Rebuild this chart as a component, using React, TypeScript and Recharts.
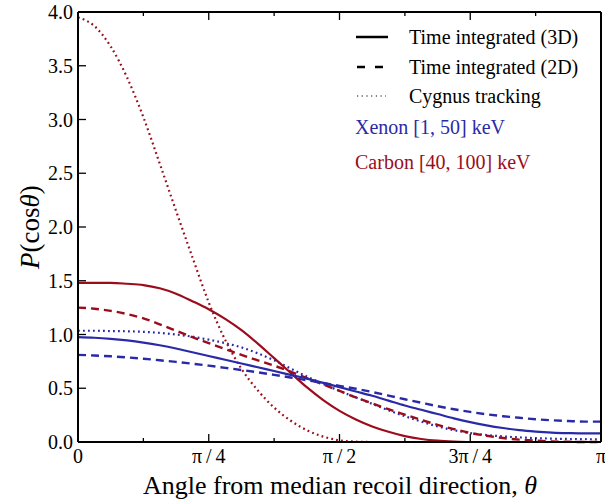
import { LineChart, Line, XAxis, YAxis } from 'recharts'

// angle samples, k * pi / 32
const theta = [
  0, 0.098, 0.196, 0.295, 0.393, 0.491, 0.589, 0.687, 0.785, 0.884, 0.982,
  1.08, 1.178, 1.276, 1.374, 1.473, 1.571, 1.669, 1.767, 1.865, 1.963, 2.062,
  2.16, 2.258, 2.356, 2.454, 2.553, 2.651, 2.749, 2.847, 2.945, 3.043, 3.1416,
]

const xenon3D = [
  0.975, 0.97, 0.96, 0.945, 0.925, 0.9, 0.87, 0.835, 0.8, 0.765, 0.73, 0.695,
  0.66, 0.625, 0.59, 0.55, 0.51, 0.47, 0.43, 0.385, 0.34, 0.3, 0.26, 0.22,
  0.185, 0.155, 0.13, 0.11, 0.097, 0.088, 0.083, 0.08, 0.08,
]
const xenon2D = [
  0.81, 0.805, 0.797, 0.787, 0.775, 0.76, 0.745, 0.728, 0.71, 0.69, 0.67, 0.648,
  0.625, 0.6, 0.575, 0.55, 0.522, 0.495, 0.465, 0.432, 0.398, 0.365, 0.333, 0.305,
  0.28, 0.258, 0.24, 0.225, 0.212, 0.202, 0.195, 0.19, 0.19,
]
const xenonCygnus = [
  1.035, 1.035, 1.032, 1.03, 1.025, 1.015, 1.0, 0.98, 0.952, 0.92, 0.88, 0.825,
  0.76, 0.685, 0.61, 0.54, 0.475, 0.415, 0.355, 0.295, 0.24, 0.19, 0.145, 0.11,
  0.083, 0.065, 0.052, 0.043, 0.036, 0.031, 0.028, 0.026, 0.025,
]
const carbon3D = [
  1.48, 1.48, 1.48, 1.472, 1.46, 1.43, 1.38, 1.31, 1.235, 1.145, 1.04, 0.915,
  0.78, 0.645, 0.51, 0.39, 0.29, 0.21, 0.145, 0.095, 0.055, 0.028, 0.012, 0.004,
  0, 0, 0, 0, 0, 0, 0, 0, 0,
]
const carbon2D = [
  1.25, 1.24, 1.22, 1.19, 1.15, 1.095, 1.035, 0.975, 0.92, 0.865, 0.81, 0.76,
  0.71, 0.655, 0.595, 0.535, 0.475, 0.415, 0.36, 0.305, 0.255, 0.205, 0.16,
  0.12, 0.085, 0.058, 0.037, 0.022, 0.012, 0.005, 0.002, 0, 0,
]
const carbonCygnus = [
  3.95, 3.87, 3.68, 3.39, 3.02, 2.59, 2.15, 1.72, 1.3, 0.95, 0.68, 0.48, 0.32,
  0.2, 0.11, 0.05, 0.015, 0.003, 0, 0, 0, 0, 0, 0, 0, 0, 0, 0, 0, 0, 0, 0, 0,
]

const xTicks = [0, 0.3927, 0.7854, 1.1781, 1.5708, 1.9635, 2.3562, 2.7489, 3.1416]
const xTickLabels = ['0', '', 'π\u2009/\u20094', '', 'π\u2009/\u20092', '', '3π\u2009/\u20094', '', 'π']
const yTicks = [0, 0.5, 1, 1.5, 2, 2.5, 3, 3.5, 4]
const yTickLabels = ['0.0', '0.5', '1.0', '1.5', '2.0', '2.5', '3.0', '3.5', '4.0']

const data = theta.map((t, i) => ({
  theta: t,
  xenon3D: xenon3D[i],
  xenon2D: xenon2D[i],
  xenonCygnus: xenonCygnus[i],
  carbon3D: carbon3D[i],
  carbon2D: carbon2D[i],
  carbonCygnus: carbonCygnus[i],
}))

const BLUE = '#2a2aa8'
const RED = '#9b0d1d'
const FONT = '"Liberation Serif", "Times New Roman", serif'
const DASH = '8 5'
const DOT = '1.8 3.2'

function BottomTick({ x, y, payload }: any) {
  const label = xTickLabels[payload.index]
  return (
    <g>
      <line x1={x} x2={x} y1={y} y2={y - (label ? 8 : 4)} stroke="#000" strokeWidth={1.3} />
      {label && (
        <text x={x} y={y + 21} textAnchor="middle" fontFamily={FONT} fontSize={20} fill="#000">
          {label}
        </text>
      )}
    </g>
  )
}

function TopTick({ x, y, payload }: any) {
  const label = xTickLabels[payload.index]
  return <line x1={x} x2={x} y1={y} y2={y + (label ? 8 : 4)} stroke="#000" strokeWidth={1.3} />
}

function LeftTick({ x, y, payload }: any) {
  return (
    <g>
      <line x1={x} x2={x + 8} y1={y} y2={y} stroke="#000" strokeWidth={1.3} />
      <text x={x - 5} y={y} dy="0.35em" textAnchor="end" fontFamily={FONT} fontSize={20} fill="#000">
        {yTickLabels[payload.index]}
      </text>
    </g>
  )
}

function RightTick({ x, y }: any) {
  return <line x1={x} x2={x - 8} y1={y} y2={y} stroke="#000" strokeWidth={1.3} />
}

const axisLine = { stroke: '#000', strokeWidth: 2 }

export default function App() {
  return (
    <div style={{ position: 'absolute', left: 0, top: 0, width: 605, height: 501, background: '#fff' }}>
      {/* axes are 1px thick, margins set so the plot box is 78..601 x 12..442 */}
      <LineChart width={605} height={501} data={data} margin={{ top: 11, right: 3, bottom: 58, left: 77 }}>
        <XAxis
          dataKey="theta"
          type="number"
          domain={[0, 3.1416]}
          ticks={xTicks}
          interval={0}
          height={1}
          tickSize={0}
          tickMargin={0}
          tickLine={false}
          axisLine={axisLine}
          tick={<BottomTick />}
        />
        <XAxis
          xAxisId="top"
          orientation="top"
          dataKey="theta"
          type="number"
          domain={[0, 3.1416]}
          ticks={xTicks}
          interval={0}
          height={1}
          tickSize={0}
          tickMargin={0}
          tickLine={false}
          axisLine={axisLine}
          tick={<TopTick />}
        />
        <YAxis
          type="number"
          domain={[0, 4]}
          ticks={yTicks}
          interval={0}
          width={1}
          tickSize={0}
          tickMargin={0}
          tickLine={false}
          axisLine={axisLine}
          tick={<LeftTick />}
        />
        <YAxis
          yAxisId="right"
          orientation="right"
          type="number"
          domain={[0, 4]}
          ticks={yTicks}
          interval={0}
          width={1}
          tickSize={0}
          tickMargin={0}
          tickLine={false}
          axisLine={axisLine}
          tick={<RightTick />}
        />
        <Line dataKey="carbonCygnus" type="monotone" stroke={RED} strokeWidth={2.2} strokeDasharray={DOT} dot={false} isAnimationActive={false} />
        <Line dataKey="xenonCygnus" type="monotone" stroke={BLUE} strokeWidth={2.2} strokeDasharray={DOT} dot={false} isAnimationActive={false} />
        <Line dataKey="carbon2D" type="monotone" stroke={RED} strokeWidth={2.4} strokeDasharray={DASH} dot={false} isAnimationActive={false} />
        <Line dataKey="xenon2D" type="monotone" stroke={BLUE} strokeWidth={2.4} strokeDasharray={DASH} dot={false} isAnimationActive={false} />
        <Line dataKey="carbon3D" type="monotone" stroke={RED} strokeWidth={2.2} dot={false} isAnimationActive={false} />
        <Line dataKey="xenon3D" type="monotone" stroke={BLUE} strokeWidth={2.2} dot={false} isAnimationActive={false} />
      </LineChart>

      {/* legend + axis titles */}
      <svg width={605} height={501} style={{ position: 'absolute', left: 0, top: 0, pointerEvents: 'none' }}>
        <g fontFamily={FONT} fontSize={20} fill="#000">
          <line x1={356} x2={388} y1={37} y2={37} stroke="#000" strokeWidth={2.5} />
          <text x={409} y={37} dy="0.35em">Time integrated (3D)</text>
          <line x1={357} x2={388} y1={67} y2={67} stroke="#000" strokeWidth={2.5} strokeDasharray="8 10" />
          <text x={409} y={67} dy="0.35em">Time integrated (2D)</text>
          <line x1={357} x2={386} y1={96} y2={96} stroke="#000" strokeWidth={1.2} strokeDasharray="1.2 3.5" />
          <text x={409} y={96} dy="0.35em">Cygnus tracking</text>
          <text x={355} y={127} dy="0.35em" fill={BLUE}>Xenon [1, 50] keV</text>
          <text x={355} y={162} dy="0.35em" fill={RED}>Carbon [40, 100] keV</text>
        </g>
        <text x={340} y={485} dy="0.35em" textAnchor="middle" fontFamily={FONT} fontSize={26} fill="#000">
          Angle from median recoil direction, <tspan fontStyle="italic">θ</tspan>
        </text>
        <text
          transform="translate(30, 227) rotate(-90)"
          dy="0.35em"
          textAnchor="middle"
          fontFamily={FONT}
          fontSize={27}
          fill="#000"
        >
          <tspan fontStyle="italic">P</tspan>(cos<tspan fontStyle="italic">θ</tspan>)
        </text>
      </svg>
    </div>
  )
}
